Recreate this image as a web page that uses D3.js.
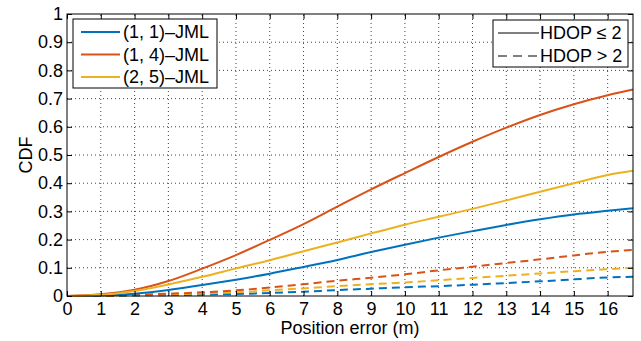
<!DOCTYPE html>
<html>
<head>
<meta charset="utf-8">
<script src="https://cdn.jsdelivr.net/npm/d3@7"></script>
<style>
  body { margin: 0; background: #fff; }
  svg text { font-family: "Liberation Sans", Arial, sans-serif; fill: #000; }
</style>
</head>
<body>
<div id="chart-container"></div>
<script>
// position error (m)
const xValues = [0, 1, 2, 3, 4, 5, 6, 7, 8, 9, 10, 11, 12, 13, 14, 15, 16, 16.75];

// CDF, HDOP <= 2
const jml11Low = [0, 0.002, 0.008, 0.021, 0.039, 0.058, 0.079, 0.103, 0.128, 0.156, 0.182, 0.207, 0.23, 0.252, 0.272, 0.289, 0.302, 0.311];
const jml14Low = [0, 0.006, 0.022, 0.053, 0.097, 0.145, 0.199, 0.255, 0.317, 0.378, 0.436, 0.493, 0.547, 0.597, 0.642, 0.68, 0.712, 0.732];
const jml25Low = [0, 0.004, 0.018, 0.041, 0.068, 0.098, 0.127, 0.159, 0.19, 0.222, 0.253, 0.281, 0.309, 0.339, 0.37, 0.4, 0.429, 0.444];

// CDF, HDOP > 2
const jml11High = [0, 0, 0.002, 0.003, 0.005, 0.007, 0.011, 0.015, 0.021, 0.026, 0.031, 0.035, 0.04, 0.046, 0.052, 0.059, 0.066, 0.068];
const jml14High = [0, 0.001, 0.004, 0.008, 0.013, 0.02, 0.03, 0.042, 0.054, 0.065, 0.077, 0.091, 0.104, 0.117, 0.13, 0.144, 0.157, 0.163];
const jml25High = [0, 0.001, 0.003, 0.005, 0.009, 0.013, 0.02, 0.027, 0.035, 0.042, 0.048, 0.056, 0.064, 0.072, 0.08, 0.088, 0.095, 0.1];

const seriesNames = ["(1, 1)\u2013JML", "(1, 4)\u2013JML", "(2, 5)\u2013JML"];
const seriesColors = ["#0072BD", "#D95319", "#EDB120"];
const hdopNames = ["HDOP \u2264 2", "HDOP > 2"];

const xTicks = d3.range(0, 17);
const yTicks = d3.range(0, 11).map((d) => d / 10);

const width = 641;
const height = 341;
const margin = { top: 14, right: 8, bottom: 45, left: 67 };
const fontSize = "18px";

const svg = d3
  .select("#chart-container")
  .append("svg")
  .attr("width", width)
  .attr("height", height);

const xScale = d3
  .scaleLinear()
  .domain([0, 16.75])
  .range([margin.left, width - margin.right]);

const yScale = d3
  .scaleLinear()
  .domain([0, 1])
  .range([height - margin.bottom, margin.top]);

const x0 = xScale.range()[0], x1 = xScale.range()[1];
const y0 = yScale.range()[0], y1 = yScale.range()[1];

// grille pointillée
svg
  .append("g")
  .selectAll("line")
  .data(xTicks.filter((d) => d > 0))
  .enter()
  .append("line")
  .attr("x1", (d) => xScale(d))
  .attr("x2", (d) => xScale(d))
  .attr("y1", y0)
  .attr("y2", y1)
  .attr("stroke", "#444")
  .attr("stroke-width", 1)
  .attr("stroke-dasharray", "1,3");

svg
  .append("g")
  .selectAll("line")
  .data(yTicks.filter((d) => d > 0 && d < 1))
  .enter()
  .append("line")
  .attr("x1", x0)
  .attr("x2", x1)
  .attr("y1", (d) => yScale(d))
  .attr("y2", (d) => yScale(d))
  .attr("stroke", "#444")
  .attr("stroke-width", 1)
  .attr("stroke-dasharray", "1,3");

// courbes
const lineGenerator = d3
  .line()
  .x((d) => xScale(d.x))
  .y((d) => yScale(d.y))
  .curve(d3.curveMonotoneX);

const toPoints = (arr) => arr.map((v, i) => ({ x: xValues[i], y: v }));

const curves = [
  { data: jml11High, color: seriesColors[0], dash: "8,5" },
  { data: jml25High, color: seriesColors[2], dash: "8,5" },
  { data: jml14High, color: seriesColors[1], dash: "8,5" },
  { data: jml11Low, color: seriesColors[0], dash: null },
  { data: jml14Low, color: seriesColors[1], dash: null },
  { data: jml25Low, color: seriesColors[2], dash: null },
];

curves.forEach((c) => {
  svg
    .append("path")
    .attr("d", lineGenerator(toPoints(c.data)))
    .attr("fill", "none")
    .attr("stroke", c.color)
    .attr("stroke-width", 2)
    .attr("stroke-dasharray", c.dash);
});

// axes (ticks vers l'intérieur, style matlab)
const tickLen = 5;
svg
  .append("g")
  .attr("transform", `translate(0,${y0})`)
  .call(d3.axisBottom(xScale).tickValues(xTicks).tickSize(-tickLen).tickPadding(6).tickFormat(d3.format("d")))
  .call((g) => g.select(".domain").remove())
  .call((g) => g.selectAll("text").style("font-size", fontSize));

svg
  .append("g")
  .attr("transform", `translate(0,${y1})`)
  .call(d3.axisTop(xScale).tickValues(xTicks).tickSize(-tickLen).tickFormat(""))
  .call((g) => g.select(".domain").remove());

svg
  .append("g")
  .attr("transform", `translate(${x0},0)`)
  .call(d3.axisLeft(yScale).tickValues(yTicks).tickSize(-tickLen).tickPadding(4).tickFormat((d) => (d === 0 || d === 1 ? d3.format("d")(d) : d3.format(".1f")(d))))
  .call((g) => g.select(".domain").remove())
  .call((g) => g.selectAll("text").style("font-size", fontSize));

svg
  .append("g")
  .attr("transform", `translate(${x1},0)`)
  .call(d3.axisRight(yScale).tickValues(yTicks).tickSize(-tickLen).tickFormat(""))
  .call((g) => g.select(".domain").remove());

svg
  .append("rect")
  .attr("x", x0)
  .attr("y", y1)
  .attr("width", x1 - x0)
  .attr("height", y0 - y1)
  .attr("fill", "none")
  .attr("stroke", "#000")
  .attr("stroke-width", 1);

// titres des axes
svg
  .append("text")
  .attr("x", (x0 + x1) / 2)
  .attr("y", 334)
  .attr("text-anchor", "middle")
  .style("font-size", fontSize)
  .text("Position error (m)");

svg
  .append("text")
  .attr("transform", `translate(32,${(y0 + y1) / 2}) rotate(-90)`)
  .attr("text-anchor", "middle")
  .style("font-size", fontSize)
  .text("CDF");

// légende des séries
const leg1 = svg.append("g").attr("transform", "translate(73,19)");
leg1
  .append("rect")
  .attr("width", 144)
  .attr("height", 69)
  .attr("fill", "#fff")
  .attr("stroke", "#000")
  .attr("stroke-width", 1);
seriesNames.forEach((name, i) => {
  const yy = 13 + i * 22.5;
  leg1
    .append("line")
    .attr("x1", 8)
    .attr("x2", 47)
    .attr("y1", yy)
    .attr("y2", yy)
    .attr("stroke", seriesColors[i])
    .attr("stroke-width", 2);
  leg1
    .append("text")
    .attr("x", 50)
    .attr("y", yy)
    .attr("dominant-baseline", "central")
    .style("font-size", fontSize)
    .text(name);
});

// légende HDOP
const leg2 = svg.append("g").attr("transform", "translate(493,20)");
leg2
  .append("rect")
  .attr("width", 135)
  .attr("height", 47)
  .attr("fill", "#fff")
  .attr("stroke", "#000")
  .attr("stroke-width", 1);
hdopNames.forEach((name, i) => {
  const yy = 13 + i * 23;
  leg2
    .append("line")
    .attr("x1", 5)
    .attr("x2", 46)
    .attr("y1", yy)
    .attr("y2", yy)
    .attr("stroke", "#000")
    .attr("stroke-width", 1.2)
    .attr("stroke-dasharray", i === 1 ? "9,6" : null);
  leg2
    .append("text")
    .attr("x", 47)
    .attr("y", yy)
    .attr("dominant-baseline", "central")
    .style("font-size", fontSize)
    .text(name);
});
</script>
</body>
</html>
